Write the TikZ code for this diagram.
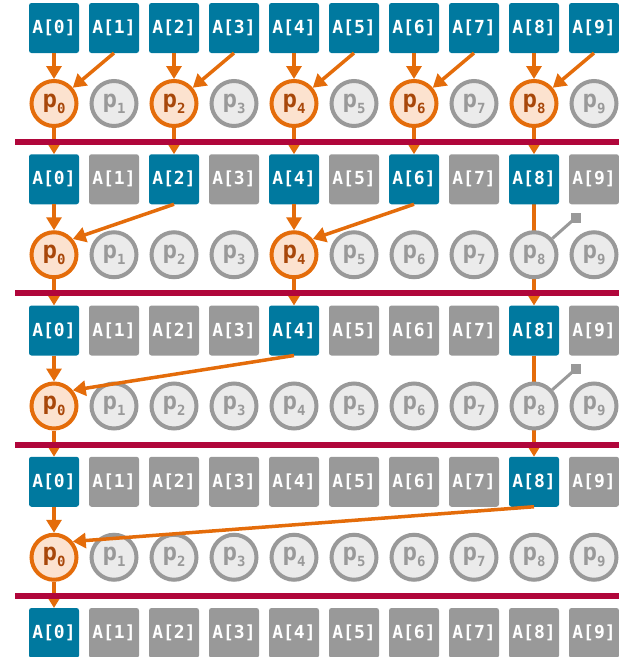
\documentclass[tikz,border=0pt]{standalone}
\usepackage{fontspec}
\newfontfamily\monof{DejaVu Sans Mono}
\usetikzlibrary{arrows.meta}
\definecolor{cblue}{HTML}{00799F}
\definecolor{cgray}{HTML}{999999}
\definecolor{corange}{HTML}{E46C0A}
\definecolor{corfill}{HTML}{FCE2CF}
\definecolor{cgfill}{HTML}{EBEBEB}
\definecolor{cred}{HTML}{B0063B}
\definecolor{cbrown}{HTML}{A8470A}
\pgfdeclarelayer{bg}\pgfdeclarelayer{fg}\pgfsetlayers{bg,main,fg}
\newcommand\plab[1]{p\raisebox{-6pt}{\fontsize{14}{14}\selectfont #1}}
\tikzset{
  box/.style={rectangle, rounded corners=2.5pt, minimum size=50pt, inner sep=0pt, outer sep=0pt, text=white,
    font=\monof\bfseries\fontsize{18}{18}\selectfont},
  bluebox/.style={box, fill=cblue},
  graybox/.style={box, fill=cgray},
  proc/.style={circle, minimum size=45pt, inner sep=0pt, line width=4pt,
    font=\monof\bfseries\fontsize{24}{24}\selectfont},
  active/.style={proc, draw=corange, fill=corfill, text=cbrown},
  idle/.style={proc, draw=cgray, fill=cgfill, text=cgray},
  flow/.style={draw=corange, line width=3.5pt, -{Triangle[length=13pt,width=15pt]}},
  barrier/.style={draw=cred, line width=6pt},
  pinline/.style={draw=cgray, line width=3pt},
  pinsq/.style={rectangle, fill=cgray, minimum size=10pt, inner sep=0pt, outer sep=0pt}
}
\begin{document}
\begin{tikzpicture}[x=1pt,y=-1pt]
\useasboundingbox (0,0) rectangle (619,657);
% boxes
\foreach \k in {0,...,4} {
  \pgfmathtruncatemacro\stp{2^\k}
  \foreach \i in {0,...,9} {
    \pgfmathtruncatemacro\isblue{mod(\i,\stp)==0 ? 1 : 0}
    \ifnum\isblue=1
      \node[bluebox] (a\k-\i) at ({54+60*\i},{28+151.25*\k}) {A[\i]};
    \else
      \node[graybox] (a\k-\i) at ({54+60*\i},{28+151.25*\k}) {A[\i]};
    \fi
  }
}
% processors
\foreach \k in {0,...,3} {
  \pgfmathtruncatemacro\stp{2^\k}
  \pgfmathtruncatemacro\stq{2^(\k+1)}
  \foreach \i in {0,...,9} {
    \pgfmathtruncatemacro\isact{(mod(\i,\stq)==0 && \i+\stp<=9) ? 1 : 0}
    \ifnum\isact=1
      \node[active] (p\k-\i) at ({54+60*\i},{103.5+151.25*\k}) {\plab{\i}};
    \else
      \node[idle] (p\k-\i) at ({54+60*\i},{103.5+151.25*\k}) {\plab{\i}};
    \fi
  }
}
% pins on idle p8
\node[pinsq] (s1) at (576,217.5) {};
\node[pinsq] (s2) at (576,368.75) {};
\draw[pinline] (p1-8) -- (s1.center);
\draw[pinline] (p2-8) -- (s2.center);
% pass-through connectors (behind idle processors)
\begin{pgfonlayer}{bg}
\draw[flow] (a1-8) -- (a2-8);
\draw[flow] (a2-8) -- (a3-8);
\end{pgfonlayer}
% connectors
\foreach \i/\j in {0/1,2/3,4/5,6/7,8/9} {
  \draw[flow] (a0-\i) -- (p0-\i);
  \draw[flow] (a0-\j.south) -- (p0-\i.40);
  \draw[flow] (p0-\i) -- (a1-\i);
}
\foreach \i/\j in {0/2,4/6} {
  \draw[flow] (a1-\i) -- (p1-\i);
  \draw[flow] (a1-\j.south) -- (p1-\i.40);
  \draw[flow] (p1-\i) -- (a2-\i);
}
\draw[flow] (a2-0) -- (p2-0);
\draw[flow] (a2-4.south) -- (p2-0.40);
\draw[flow] (p2-0) -- (a3-0);
\draw[flow] (a3-0) -- (p3-0);
\draw[flow] (a3-8.south) -- (p3-0.40);
\draw[flow] (p3-0) -- (a4-0);
% barriers
\begin{pgfonlayer}{fg}
\foreach \k in {0,...,3} {
  \draw[barrier] (15,{142+151.25*\k}) -- (625,{142+151.25*\k});
}
\end{pgfonlayer}
\end{tikzpicture}
\end{document}
